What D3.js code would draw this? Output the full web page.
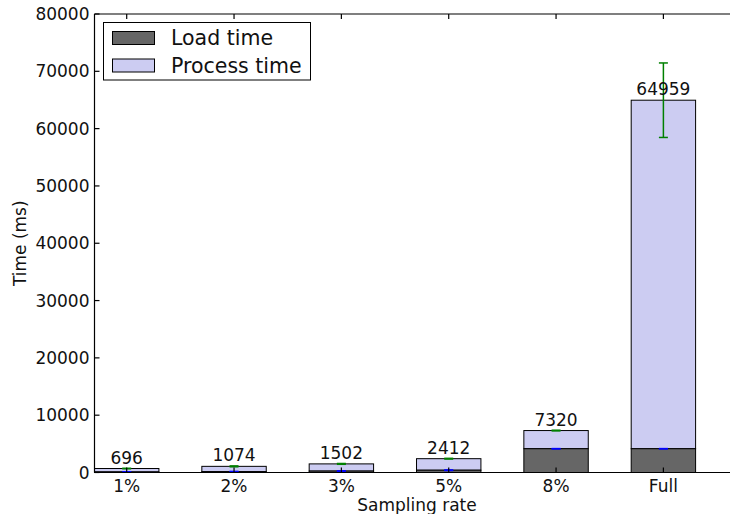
<!DOCTYPE html>
<html lang="en">
<head>
    <meta charset="UTF-8">
    <title>Load vs process time by sampling rate</title>
    <script src="https://d3js.org/d3.v7.min.js"></script>
    <style>
        body { margin: 0; background: #fff; }
        svg { display: block; font-family: "DejaVu Sans", sans-serif; }
    </style>
</head>
<body>
    <div id="chart"></div>
    <script>
        // Data
        const categories = ["1%", "2%", "3%", "5%", "8%", "Full"];
        const loadTime = [100, 150, 250, 400, 4150, 4150];
        const totalTime = [696, 1074, 1502, 2412, 7320, 64959];
        const loadErr = [30, 40, 40, 40, 20, 20];
        const totalErr = [40, 80, 70, 60, 60, 6500];
        const yTicks = [0, 10000, 20000, 30000, 40000, 50000, 60000, 70000, 80000];

        const W = 730, H = 514;
        const plot = {left: 94.5, top: 14, bottom: 472.5, right: 760};

        const xScale = d3.scaleLinear().domain([-0.3, 5.9]).range([plot.left, plot.right]);
        const yScale = d3.scaleLinear().domain([0, 80000]).range([plot.bottom, plot.top]);
        const barW = xScale(0.6) - xScale(0);

        const svg = d3.select("#chart")
            .append("svg")
            .attr("width", W)
            .attr("height", H);

        const loadColor = "#666666";
        const procColor = "#ccccf2";

        // Stacked bars: load at the bottom, process on top
        const bars = svg.append("g");
        categories.forEach((c, i) => {
            const x0 = xScale(i) - barW / 2;
            bars.append("rect")
                .attr("x", x0)
                .attr("y", yScale(totalTime[i]))
                .attr("width", barW)
                .attr("height", yScale(loadTime[i]) - yScale(totalTime[i]))
                .attr("fill", procColor)
                .attr("stroke", "#000")
                .attr("stroke-width", 1);
            bars.append("rect")
                .attr("x", x0)
                .attr("y", yScale(loadTime[i]))
                .attr("width", barW)
                .attr("height", yScale(0) - yScale(loadTime[i]))
                .attr("fill", loadColor)
                .attr("stroke", "#000")
                .attr("stroke-width", 1);
        });

        // Error bars
        function errorBar(i, value, err, color) {
            const cx = xScale(i);
            const g = svg.append("g").attr("stroke", color).attr("stroke-width", 1.5);
            g.append("line")
                .attr("x1", cx).attr("x2", cx)
                .attr("y1", yScale(value - err)).attr("y2", yScale(value + err));
            [value - err, value + err].forEach(v => {
                g.append("line")
                    .attr("x1", cx - 4.5).attr("x2", cx + 4.5)
                    .attr("y1", yScale(v)).attr("y2", yScale(v));
            });
        }
        categories.forEach((c, i) => {
            errorBar(i, loadTime[i], loadErr[i], "#0000ff");
            errorBar(i, totalTime[i], totalErr[i], "#008000");
        });

        // Value labels
        svg.append("g")
            .selectAll("text")
            .data(totalTime)
            .join("text")
            .attr("x", (d, i) => xScale(i))
            .attr("y", d => yScale(d) - 5)
            .attr("text-anchor", "middle")
            .attr("font-size", "17px")
            .attr("fill", "#111")
            .text(d => d);

        // Axes frame (right side lies outside the picture)
        const axis = svg.append("g").attr("stroke", "#000").attr("stroke-width", 1.2);
        axis.append("line").attr("x1", plot.left).attr("x2", plot.right)
            .attr("y1", plot.bottom).attr("y2", plot.bottom);
        axis.append("line").attr("x1", plot.left).attr("x2", plot.right)
            .attr("y1", plot.top).attr("y2", plot.top);
        axis.append("line").attr("x1", plot.left).attr("x2", plot.left)
            .attr("y1", plot.top).attr("y2", plot.bottom);

        // Inward ticks
        const tickLen = 5;
        categories.forEach((c, i) => {
            const x = xScale(i);
            axis.append("line").attr("x1", x).attr("x2", x)
                .attr("y1", plot.bottom).attr("y2", plot.bottom - tickLen);
            axis.append("line").attr("x1", x).attr("x2", x)
                .attr("y1", plot.top).attr("y2", plot.top + tickLen);
        });
        yTicks.forEach(t => {
            const y = yScale(t);
            axis.append("line").attr("x1", plot.left).attr("x2", plot.left + tickLen)
                .attr("y1", y).attr("y2", y);
        });

        // Tick labels
        svg.append("g")
            .selectAll("text")
            .data(categories)
            .join("text")
            .attr("x", (d, i) => xScale(i))
            .attr("y", plot.bottom + 13)
            .attr("dominant-baseline", "central")
            .attr("text-anchor", "middle")
            .attr("font-size", "17px")
            .attr("fill", "#111")
            .text(d => d);

        svg.append("g")
            .selectAll("text")
            .data(yTicks)
            .join("text")
            .attr("x", plot.left - 5)
            .attr("y", d => yScale(d))
            .attr("dominant-baseline", "central")
            .attr("text-anchor", "end")
            .attr("font-size", "17px")
            .attr("fill", "#111")
            .text(d => d);

        // Axis titles
        svg.append("text")
            .attr("x", 417)
            .attr("y", 505)
            .attr("dominant-baseline", "central")
            .attr("text-anchor", "middle")
            .attr("font-size", "17px")
            .attr("fill", "#111")
            .text("Sampling rate");

        svg.append("text")
            .attr("transform", `translate(20,${(plot.top + plot.bottom) / 2}) rotate(-90)`)
            .attr("dominant-baseline", "central")
            .attr("text-anchor", "middle")
            .attr("font-size", "17px")
            .attr("fill", "#111")
            .text("Time (ms)");

        // Legend
        const legend = svg.append("g");
        legend.append("rect")
            .attr("x", 103.5).attr("y", 22.5)
            .attr("width", 207).attr("height", 57.5)
            .attr("fill", "#fff")
            .attr("stroke", "#000")
            .attr("stroke-width", 1);
        const legendItems = [["Load time", loadColor], ["Process time", procColor]];
        legendItems.forEach(([label, color], k) => {
            const cy = 38 + k * 27.5;
            legend.append("rect")
                .attr("x", 112.5).attr("y", cy - 6.5)
                .attr("width", 42).attr("height", 13)
                .attr("fill", color)
                .attr("stroke", "#000")
                .attr("stroke-width", 1);
            legend.append("text")
                .attr("x", 171)
                .attr("y", cy)
                .attr("dominant-baseline", "central")
                .attr("font-size", "20.5px")
                .attr("fill", "#111")
                .text(label);
        });
    </script>
</body>
</html>
